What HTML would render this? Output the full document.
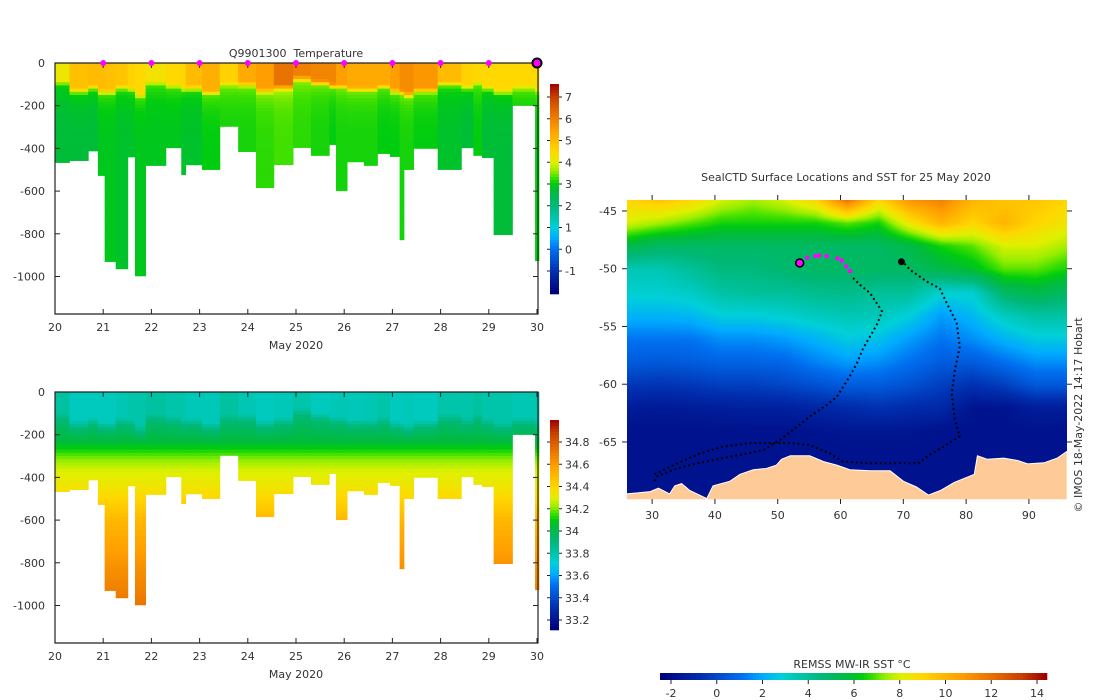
<!DOCTYPE html>
<html><head><meta charset="utf-8"><style>
body{margin:0;background:#fff;width:1100px;height:700px;overflow:hidden;position:relative;font-family:"DejaVu Sans","Liberation Sans",sans-serif}
#sst{position:absolute;left:627px;top:200px}
svg{position:absolute;left:0;top:0}
text{font-family:"DejaVu Sans","Liberation Sans",sans-serif;fill:#333;font-size:11px}
</style></head><body>
<canvas id="sst" width="440" height="299"></canvas>
<svg id="s" width="1100" height="700"></svg>
<script>
// ---- profile data (days, depth m, temperature °C, salinity) ----
const colStart=[20.0,20.30,20.69,20.89,21.03,21.26,21.51,21.66,21.88,22.30,22.62,22.71,23.05,23.42,23.80,24.17,24.54,24.94,25.31,25.69,25.83,26.06,26.41,26.69,26.95,27.15,27.24,27.44,27.94,28.43,28.68,28.86,29.10,29.49,29.96];
const colEnd=[20.30,20.69,20.89,21.03,21.26,21.51,21.66,21.88,22.30,22.62,22.71,23.05,23.42,23.80,24.17,24.54,24.94,25.31,25.69,25.83,26.06,26.41,26.69,26.95,27.15,27.24,27.44,27.94,28.43,28.68,28.86,29.10,29.49,29.96,30.04];
const maxDepth=[466,457,412,527,930,964,440,997,480,397,523,477,499,297,415,584,476,396,433,382,598,463,480,424,438,828,499,400,499,397,433,443,804,199,926];
const surfTemp=[4.2,4.9,5.0,5.0,4.9,4.8,4.6,4.5,4.3,4.5,4.5,5.0,5.2,4.6,5.3,5.5,6.2,6.0,5.9,5.9,5.5,5.3,5.3,5.3,5.5,5.8,5.8,5.6,5.0,4.6,4.5,4.5,4.5,4.5,4.5];
const mixedDepth=[94,133,117,138,138,117,125,156,97,110,125,120,141,100,102,132,117,75,95,110,112,125,125,112,133,140,150,130,100,117,95,120,138,117,130];
const deepTemp=[2.7,2.7,2.7,2.9,2.9,2.8,2.8,2.9,2.9,2.9,2.8,2.8,3.0,3.1,3.1,3.2,3.3,3.2,3.1,3.0,3.1,3.1,3.1,3.0,3.0,3.1,3.1,3.0,2.8,2.7,3.0,2.7,2.7,3.0,3.0];
const surfSal=[33.82,33.76,33.76,33.76,33.76,33.78,33.80,33.80,33.82,33.80,33.80,33.77,33.77,33.82,33.78,33.76,33.77,33.80,33.76,33.77,33.78,33.77,33.78,33.80,33.76,33.76,33.77,33.76,33.80,33.80,33.82,33.80,33.80,33.78,33.80];
const salKnotDepth=[40,240,300,360,460,600,800,1000];
const salKnotVal=[33.92,34.05,34.18,34.28,34.36,34.5,34.62,34.72];
const markerDays=[21,22,23,24,25,26,27,28,29];
const dayTicks=[20,21,22,23,24,25,26,27,28,29,30];
const depthTicks=[0,200,400,600,800,1000];
const tempTicks=[7,6,5,4,3,2,1,0,-1];
const salTicks=[34.8,34.6,34.4,34.2,34,33.8,33.6,33.4,33.2];
const sstTicks=[-2,0,2,4,6,8,10,12,14];
const lonTicks=[30,40,50,60,70,80,90];
const latTicks=[-45,-50,-55,-60,-65];
// ---- SST grid (lon 26..96 step 5, lat -44..-70 step 2) ----
const gridLon=[26,31,36,41,46,51,56,61,66,71,76,81,86,91,96];
const gridLat=[-44,-46,-48,-50,-52,-54,-56,-58,-60,-62,-64,-66,-68,-70];
const sstRows=[
[9,9.5,9,8,7.5,8,9,12,9,11,11.5,10,9.5,9.5,9],
[8,7.5,7,6.5,6.5,6.5,6.5,7,6.5,8.5,10,9,10,9,8.5],
[5.5,5,5,5,5,5,5,5,5,5.5,6.5,7,8,8,7.5],
[3.5,3.5,4,4.5,4.5,4.8,5,5,5,5,5.5,6,7,7,6.5],
[3,3,3.2,3.8,4,4,4.2,4.3,4,4,3,3,5,5.5,5],
[2.2,2.2,2.3,2.8,2.8,3,3.3,3.5,3.4,2.8,1.8,2.3,3.3,3.8,3.8],
[1.2,1.2,1.2,1.6,1.6,1.8,2.2,2.7,2.5,1.8,1.2,1.6,2.2,2.7,2.7],
[0.6,0.5,0.6,0.8,0.8,0.9,1.4,1.8,1.6,1.1,0.6,0.6,1.1,1.6,1.6],
[-0.4,-0.5,-0.4,-0.2,-0.2,0,0.3,0.6,0.6,0.3,-0.2,-0.6,-0.2,0.5,0.5],
[-1.4,-1.5,-1.4,-1.3,-1.2,-1.2,-1,-0.8,-0.6,-0.8,-0.9,-1.7,-1.7,-1.3,-1.3],
[-1.8,-1.8,-1.8,-1.8,-1.8,-1.8,-1.7,-1.6,-1.6,-1.6,-1.8,-1.8,-1.8,-1.8,-1.8],
[-1.8,-1.8,-1.8,-1.8,-1.8,-1.8,-1.8,-1.8,-1.8,-1.8,-1.8,-1.8,-1.8,-1.8,-1.8],
[-1.8,-1.8,-1.8,-1.8,-1.8,-1.8,-1.8,-1.8,-1.8,-1.8,-1.8,-1.8,-1.8,-1.8,-1.8],
[-1.8,-1.8,-1.8,-1.8,-1.8,-1.8,-1.8,-1.8,-1.8,-1.8,-1.8,-1.8,-1.8,-1.8,-1.8]];
const landLon=[25.9,29.7,31.0,32.8,33.6,34.7,36.0,38.7,39.7,42.4,44.0,46.1,48.2,49.8,50.6,52.0,55.1,57.3,59.4,61.5,64.7,67.9,70.0,72.1,74.0,75.9,78.1,81.3,81.8,83.4,86.0,88.2,89.8,92.4,94.5,96.1,96.1,25.9];
const landLat=[-69.5,-69.3,-69.0,-69.5,-68.8,-68.6,-69.2,-69.9,-68.8,-68.4,-67.8,-67.4,-67.3,-67.0,-66.5,-66.2,-66.2,-66.7,-67.0,-67.4,-67.5,-67.5,-68.4,-68.9,-69.6,-69.2,-68.5,-67.8,-66.2,-66.5,-66.4,-66.6,-66.9,-66.8,-66.4,-65.8,-70,-70];
const trackALon=[62.0,63.1,64.7,65.8,66.6,65.9,65.0,63.6,62.6,61.5,59.4,57.8,55.1,53.0,50.4,47.7,45.1,41.3,37.6,33.9,30.7,30.2];
const trackALat=[-50.8,-51.4,-52.1,-53.0,-53.7,-54.7,-55.6,-56.9,-58.2,-59.3,-61.1,-61.8,-62.8,-63.7,-64.8,-65.7,-66.0,-66.4,-66.8,-67.3,-68.0,-68.6];
const trackBLon=[69.7,71.1,73.7,75.8,77.2,78.5,79.0,78.2,77.7,78.2,79.0,76.4,74.2,72.4,67.9,64.7,60.4,58.3,55.1,52.0,48.8,45.6,41.3,37.6,33.4,30.2];
const trackBLat=[-49.25,-50.1,-51.1,-51.7,-53.3,-54.7,-56.75,-58.8,-60.8,-63.1,-64.5,-65.4,-66.1,-66.85,-66.85,-66.85,-66.7,-66.0,-65.25,-65.1,-65.1,-65.1,-65.4,-66.0,-67.0,-67.85];
const recentLon=[54.7,56.0,56.6,57.8,59.5,60.2,60.9,61.5];
const recentLat=[-49.05,-48.9,-48.85,-48.9,-49.1,-49.3,-49.8,-50.2];
const currentLon=[53.5], currentLat=[-49.5];

// ---- colormap ----
const cmT=[0,.11,.213,.265,.316,.42,.49,.524,.555,.586,.627,.679,.73,.78,.834,.938,1];
const cmC=['#000078','#0030b0','#0070f0','#00aaff','#00d0d8','#00b878','#00bb3c','#00cc10','#40e000','#99ee00','#e0f000','#ffd800','#ffbb00','#ffa000','#f08000','#c84000','#a00000'];
const cmRGB=cmC.map(h=>[parseInt(h.substr(1,2),16),parseInt(h.substr(3,2),16),parseInt(h.substr(5,2),16)]);
function cmap(t){t=Math.max(0,Math.min(1,t));let i=0;while(i<cmT.length-2&&t>cmT[i+1])i++;const f=(t-cmT[i])/(cmT[i+1]-cmT[i]);const a=cmRGB[i],b=cmRGB[i+1];return [0,1,2].map(k=>Math.round(a[k]+(b[k]-a[k])*f));}
function rgb(c){return 'rgb('+c.join(',')+')';}

const NS='http://www.w3.org/2000/svg';const svg=document.getElementById('s');
function el(tag,attrs,parent){const e=document.createElementNS(NS,tag);for(const k in attrs)e.setAttribute(k,attrs[k]);(parent||svg).appendChild(e);return e;}
function txt(x,y,s,anchor,parent,size){const t=el('text',{x:x,y:y,'text-anchor':anchor||'middle'},parent);if(size)t.setAttribute('font-size',size);t.textContent=s;return t;}

// ---- profile panels ----
const X=d=>55+(d-20)*48.2;
const TMIN=-2.06,TMAX=7.6,SMIN=33.11,SMAX=35.0;
function tempAt(i,z){const m=mixedDepth[i];if(z<m-15)return surfTemp[i];if(z<m+15)return surfTemp[i]+(deepTemp[i]+0.35-surfTemp[i])*(z-m+15)/30;return deepTemp[i]+0.35*Math.exp(-(z-m-15)/60);}
function salAt(i,z){const m=mixedDepth[i];if(z<m)return surfSal[i];let pd=m,pv=surfSal[i];for(let k=0;k<salKnotDepth.length;k++){let kd=k===0?m+salKnotDepth[0]:Math.max(salKnotDepth[k],m+salKnotDepth[0]+10);if(z<=kd){return pv+(salKnotVal[k]-pv)*(z-pd)/(kd-pd);}pd=kd;pv=salKnotVal[k];}return pv;}
function panel(y0,name,fn,vmin,vmax,cbTop,cbBot,ticks,tickY,title){
  const g=el('g',{});
  const Y=z=>y0+z*0.2135;
  for(let i=0;i<colStart.length;i++){
    const cg=el('g',{},g);
    for(let z=0;z<maxDepth[i];z+=15){
      const z2=Math.min(z+15,maxDepth[i]);
      const v=fn(i,z+7);
      el('rect',{x:X(colStart[i]).toFixed(2),y:Y(z).toFixed(2),width:(X(colEnd[i])-X(colStart[i])+0.4).toFixed(2),height:(Y(z2)-Y(z)+0.4).toFixed(2),fill:rgb(cmap((v-vmin)/(vmax-vmin)))},cg);
    }
  }
  const bot=y0+251;
  el('path',{d:`M55,${y0}V${bot}H538V${y0}Z`,fill:'none',stroke:'#222','stroke-width':1.2},g);
  for(const d of dayTicks){el('line',{x1:X(d),x2:X(d),y1:bot,y2:bot-5,stroke:'#222'},g);el('line',{x1:X(d),x2:X(d),y1:y0,y2:y0+5,stroke:'#222'},g);
    const t=txt(X(d),bot+17,String(d),'middle',g);}
  for(const z of depthTicks){el('line',{x1:55,x2:60,y1:Y(z),y2:Y(z),stroke:'#222'},g);el('line',{x1:533,x2:538,y1:Y(z),y2:Y(z),stroke:'#222'},g);
    const t=txt(45,Y(z)+4,z===0?'0':'-'+z,'end',g);}
  const xl=txt(296,bot+35,'May 2020','middle',g);
  if(title){const tt=txt(296,57,title,'middle',g,12);}
  const cb=el('g',{},g);
  for(let y=cbTop;y<cbBot;y+=3){const v=vmax-(y+1.5-cbTop)/(cbBot-cbTop)*(vmax-vmin);el('rect',{x:550,y:y,width:9,height:3.3,fill:rgb(cmap((v-vmin)/(vmax-vmin)))},cb);}
  for(const v of ticks){const y=tickY(v);el('line',{x1:559,x2:562,y1:y,y2:y,stroke:'#222'},cb);el('line',{x1:547,x2:550,y1:y,y2:y,stroke:'#222'},cb);
    const t=txt(565,y+4,String(v),'start',cb);}
  return g;
}
panel(63,'temperature-section',tempAt,TMIN,TMAX,84,294,tempTicks,v=>97+(7-v)*21.75,'Q9901300\u00a0\u00a0Temperature');
panel(392,'salinity-section',salAt,SMIN,SMAX,420,630,salTicks,v=>442+(34.8-v)*111.25,null);
for(const d of markerDays){const c=el('circle',{cx:X(d),cy:63,r:3,fill:'#ff00ff'});}
{const c=el('circle',{cx:X(30),cy:63,r:4.5,fill:'#ff00ff',stroke:'#000','stroke-width':2});}

// ---- map ----
const LX=lon=>627+(lon-26)*6.28, LY=lat=>200+(-44.05-lat)*11.55;
const SMN=-2.48,SMX=14.35;
(function(){const cv=document.getElementById('sst');const ctx=cv.getContext('2d');const img=ctx.createImageData(440,299);
 for(let py=0;py<299;py++){const lat=-44.05-py/11.55;let fy=(-44-lat)/2;fy=Math.max(0,Math.min(gridLat.length-1.001,fy));const j=Math.floor(fy),wy=fy-j;
  for(let px=0;px<440;px++){const lon=26+px/6.28;let fx=(lon-26)/5;fx=Math.max(0,Math.min(gridLon.length-1.001,fx));const i=Math.floor(fx),wx=fx-i;
   const v=sstRows[j][i]*(1-wx)*(1-wy)+sstRows[j][i+1]*wx*(1-wy)+sstRows[j+1][i]*(1-wx)*wy+sstRows[j+1][i+1]*wx*wy;
   const c=cmap((v-SMN)/(SMX-SMN));const o=(py*440+px)*4;img.data[o]=c[0];img.data[o+1]=c[1];img.data[o+2]=c[2];img.data[o+3]=255;}}
 ctx.putImageData(img,0,0);})();
const mg=el('g',{});
const land=el('path',{d:'M'+landLon.map((l,k)=>LX(l).toFixed(1)+','+LY(landLat[k]).toFixed(1)).join('L')+'Z',fill:'#fdca98',stroke:'#fff','stroke-width':1},mg);

function track(lons,lats,name){const p=el('path',{d:'M'+lons.map((l,k)=>LX(l).toFixed(1)+','+LY(lats[k]).toFixed(1)).join('L'),fill:'none',stroke:'#000','stroke-width':2,'stroke-dasharray':'1.8 3'},mg);}
track(trackALon,trackALat,'seal-track-a');track(trackBLon,trackBLat,'seal-track-b');
{const b=el('circle',{cx:LX(69.7),cy:LY(-49.4),r:3.5,fill:'#000'},mg);}
for(let k=0;k<recentLon.length;k++){const c=el('circle',{cx:LX(recentLon[k]),cy:LY(recentLat[k]),r:2.2,fill:'#ff00ff'},mg);}
{const c=el('circle',{cx:LX(currentLon[0]),cy:LY(currentLat[0]),r:4,fill:'#ff00ff',stroke:'#000','stroke-width':1.5},mg);}
for(const l of lonTicks){el('line',{x1:LX(l),x2:LX(l),y1:499,y2:504,stroke:'#222'},mg);el('line',{x1:LX(l),x2:LX(l),y1:200,y2:195,stroke:'#222'},mg);
 const t=txt(LX(l),519,String(l),'middle',mg);}
for(const l of latTicks){el('line',{x1:622,x2:627,y1:LY(l),y2:LY(l),stroke:'#222'},mg);el('line',{x1:1067,x2:1072,y1:LY(l),y2:LY(l),stroke:'#222'},mg);
 const t=txt(617,LY(l)+4,String(l),'end',mg);}
{const t=txt(846,181,'SealCTD Surface Locations and SST for 25 May 2020','middle',mg);}
{const t=txt(0,0,'© IMOS 18-May-2022 14:17 Hobart','middle',null,10);t.setAttribute('transform','translate(1082,415) rotate(-90)');}
const sb=el('g',{});
const SX=v=>671+(v+2)*22.875;
for(let x=660;x<1045;x+=3){const v=SMN+(x+1.5-660)/385*(SMX-SMN);el('rect',{x:x,y:673,width:3.3,height:7,fill:rgb(cmap((v-SMN)/(SMX-SMN)))},sb);}
for(const v of sstTicks){el('line',{x1:SX(v),x2:SX(v),y1:680,y2:684,stroke:'#222'},sb);const t=txt(SX(v),697,String(v),'middle',sb);}
{const t=txt(852,668,'REMSS MW-IR SST °C','middle',sb);}
</script>
</body></html>
